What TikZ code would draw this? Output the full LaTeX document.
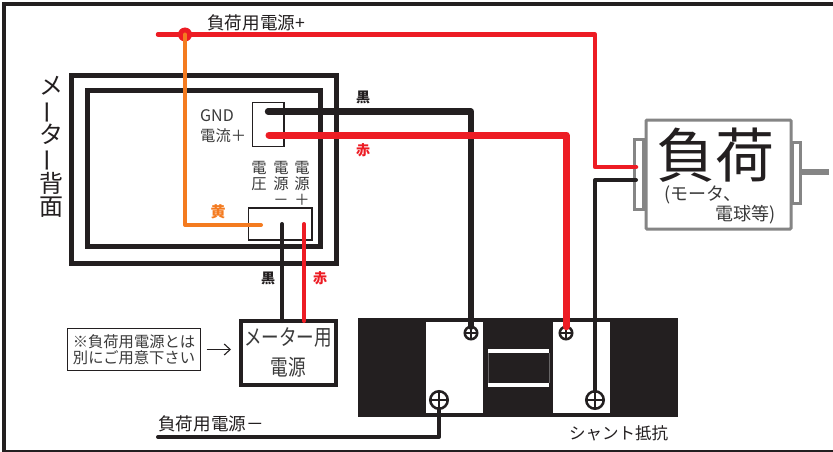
\documentclass[tikz,border=0pt]{standalone}
\usepackage{fontspec}
\usepackage{graphicx}
\usetikzlibrary{arrows.meta}
\setmainfont{Noto Sans CJK JP}
\definecolor{ink}{HTML}{231F20}
\definecolor{wirered}{HTML}{ED1C24}
\definecolor{wireorange}{HTML}{F47B20}
\definecolor{loadgray}{HTML}{858585}
\definecolor{textgray}{HTML}{3A3A3A}
\newcommand{\fsz}[1]{\fontsize{#1}{#1}\selectfont}
\newcommand{\vbar}{\rotatebox[origin=c]{90}{ー}}
\tikzset{
  box/.style={draw=ink,fill=white,rectangle,outer sep=0pt,inner sep=0pt,anchor=north west},
  loadbox/.style={box,draw=loadgray,line width=3pt,rounded corners=1pt},
  wire/.style={line width=#1,line cap=round,line join=round,draw=ink},
  redwire/.style={wire=#1,draw=wirered},
  lbl/.style={inner sep=0pt,text=ink,align=center},
  tag/.style={inner sep=0pt,font=\fsz{14}\bfseries},
  screw/.style={circle,draw=ink,fill=white,line width=2.5pt,inner sep=0pt,minimum size=#1,outer sep=0pt},
}
\begin{document}
\begin{tikzpicture}[x=1pt,y=-1pt]
\useasboundingbox (0,0) rectangle (833,452);
\clip (0,0) rectangle (833,452);
\fill[white] (0,0) rectangle (833,452);
% frame
\node[box,line width=4pt,fill=none,minimum width=850pt,minimum height=447.5pt] (frame) at (4,4) {};
% meter back
\node[box,line width=5pt,minimum width=264.5pt,minimum height=187pt] (meterouter) at (71.5,76) {};
\node[box,line width=5pt,minimum width=233.5pt,minimum height=155.5pt] (meterinner) at (87,91) {};
\node[box,line width=1.5pt,minimum width=31.5pt,minimum height=44pt] (gndbox) at (252.5,102.5) {};
\node[box,line width=1.5pt,minimum width=63.5pt,minimum height=32pt] (voltbox) at (248.5,208) {};
% load
\node[box,draw=loadgray,line width=3pt,minimum width=9pt,minimum height=70pt] (ltab) at (634.5,139.5) {};
\node[box,draw=loadgray,line width=3pt,minimum width=8pt,minimum height=61pt] (rtab) at (792,142.5) {};
\node[loadbox,minimum width=145pt,minimum height=109pt] (load) at (646,120) {};
\coordinate (shaftA) at (802,172);
\coordinate (shaftB) at (829,172);
\draw[draw=loadgray,line width=6pt] (shaftA) -- (shaftB);
% shunt
\node[box,fill=ink,draw=none,minimum width=320pt,minimum height=99pt] (shunt) at (358,318) {};
\node[box,draw=none,minimum width=57pt,minimum height=91pt] (winL) at (426,322) {};
\node[box,draw=none,minimum width=57pt,minimum height=91pt] (winR) at (553,322) {};
\node[box,draw=none,minimum width=61pt,minimum height=4pt] (stripT) at (488,349) {};
\node[box,draw=none,minimum width=61pt,minimum height=4.5pt] (stripB) at (488,382.5) {};
\draw[draw=loadgray!70!ink,line width=0.4pt] (stripT.south west) -- (stripB.north west) (stripT.south east) -- (stripB.north east);
\node[screw=12.5pt] (s1) at (471,333) {};
\node[screw=12.5pt] (s2) at (566,333) {};
\node[screw=17.5pt] (s3) at (439,400) {};
\node[screw=17.5pt] (s4) at (595,400) {};
\foreach \s in {s1,s2,s3,s4}{
  \draw[ink,line width=1.6pt] (\s.north) -- (\s.south) (\s.west) -- (\s.east);
}
% meter power supply and note
\node[box,line width=4pt,minimum width=95pt,minimum height=64pt] (psu) at (241,321) {};
\node[box,line width=1.5pt,minimum width=133pt,minimum height=42pt] (note) at (67.5,328.5) {};
\draw[-{Straight Barb[length=6pt,width=11pt]},draw=ink,line width=1.1pt] ([xshift=6pt]note.east) -- ([xshift=-10pt]psu.west |- note.east);
% wire end points
\coordinate (plusStart) at (158,34.5);
\coordinate (junctionPt) at (185,34.5);
\coordinate (gndEnd) at (268,111.5);
\coordinate (curEnd) at (269,135);
\coordinate (voltEnd) at (261,225);
\coordinate (negEnd) at (282,224);
\coordinate (posEnd) at (304,224);
\coordinate (ltabR) at (636,167);
\coordinate (ltabB) at (636,180);
\coordinate (minusStart) at (158,437);
% wires
\draw[wire=6.3pt] (gndEnd) -| (s1.north);
\draw[redwire=7pt] (curEnd) -| (s2.north);
\draw[redwire=4.5pt] (plusStart) -- (595,34.5) |- (ltabR);
\draw[wire=4pt] (s4.north) |- (ltabB);
\draw[wire=4pt] (s3.south) |- (minusStart);
\draw[wire=4pt] (negEnd) -- (negEnd |- psu.north);
\draw[redwire=4pt] (posEnd) -- (posEnd |- psu.north);
\node[circle,fill=wirered,inner sep=0pt,minimum size=14pt] (junction) at (junctionPt) {};
\draw[wire=4pt,draw=wireorange] (junction.center) |- (voltEnd);
% labels
\node[lbl,anchor=west,font=\fsz{17.6}] (lplus) at (207,23) {負荷用電源+};
\node[lbl,anchor=west,font=\fsz{17.6}] (lminus) at (158,424) {負荷用電源－};
\node[lbl,anchor=north,font=\fsz{24}] (lback) at (51,76) {メ\\[-1.2pt]\vbar\\[-1.2pt]タ\\[-1.2pt]\vbar\\[-1.2pt]背\\[-1.2pt]面};
\node[lbl,anchor=west,font=\fsz{16},text=textgray] (lgnd) at (200,115.5) {GND};
\node[lbl,anchor=west,font=\fsz{15.3},text=textgray] (lcur) at (200,135.5) {電流＋};
\node[lbl,font=\fsz{15.3},text=textgray,anchor=north] (lv) at (259,161) {電\\[1pt]圧};
\node[lbl,font=\fsz{15.3},text=textgray,anchor=north] (lvm) at (281,161) {電\\[1pt]源\\[1pt]－};
\node[lbl,font=\fsz{15.3},text=textgray,anchor=north] (lvp) at (302,161) {電\\[1pt]源\\[1pt]＋};
\node[tag,text=ink] (tk1) at (363,97) {黒};
\node[tag,text=wirered] (tr1) at (363,150.5) {赤};
\node[tag,text=wireorange,font=\fsz{15}\bfseries] (ty) at (218,212) {黄};
\node[tag,text=ink] (tk2) at (268,278) {黒};
\node[tag,text=wirered] (tr2) at (320,278) {赤};
\node[lbl,font=\fsz{59}] (lload) at (715,155) {負荷};
\node[lbl,anchor=west,font=\fsz{18},text=textgray] (lload2) at (664,195) {(モータ、};
\node[lbl,anchor=east,font=\fsz{18},text=textgray] (lload3) at (776,215) {電球等)};
\node[lbl,font=\fsz{16.5}] (lshunt) at (618.5,433) {シャント抵抗};
\node[lbl,font=\fsz{15.3},text=textgray,align=center] (lnote) at (134,349.5) {※負荷用電源とは\\[1pt]別にご用意下さい};
\node[lbl,text=textgray] (lpsu) at (288,352) {\scalebox{0.8}[1]{\fsz{22}メーター用}\\[9pt]\scalebox{0.8}[1]{\fsz{22}電源}};
\end{tikzpicture}
\end{document}
